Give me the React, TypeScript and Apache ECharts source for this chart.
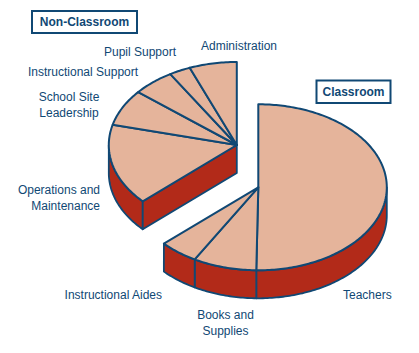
import React, { useEffect, useRef } from "react";
import * as echarts from "echarts";

// Data: share of total spending (%)
const classroomNames = ["Teachers", "Books and\nSupplies", "Instructional Aides"];
const classroomValues = [50.3, 8, 4.9];
const nonClassroomNames = [
  "Operations and\nMaintenance",
  "School Site\nLeadership",
  "Instructional Support",
  "Pupil Support",
  "Administration",
];
const nonClassroomValues = [15.8, 7.1, 5.3, 2.7, 6];
const groupTitles = ["Classroom", "Non-Classroom"];

const INK = "#104874";
const TOP = "#e5b49b";
const WALL = "#b22a19";
const FONT = '12px "Liberation Sans", Arial, sans-serif';

const PIES = [
  { cx: 258.3, cy: 187.3, rx: 128.5, ry: 83, depth: 28 },
  { cx: 236.8, cy: 145, rx: 128, ry: 83, depth: 28 },
];

const allValues = [...classroomValues, ...nonClassroomValues];
const total = allValues.reduce((a, b) => a + b, 0);

function arc(p: any, a0: number, a1: number, dy = 0) {
  const pts: number[][] = [];
  const n = Math.max(2, Math.ceil(Math.abs(a1 - a0)));
  for (let i = 0; i <= n; i++) {
    const t = ((a0 + ((a1 - a0) * i) / n) * Math.PI) / 180;
    pts.push([p.cx + p.rx * Math.sin(t), p.cy - p.ry * Math.cos(t) + dy]);
  }
  return pts;
}

function renderItem(params: any) {
  const i = params.dataIndex;
  const before = allValues.slice(0, i).reduce((a, b) => a + b, 0);
  const a0 = (before / total) * 360;
  const a1 = ((before + allValues[i]) / total) * 360;
  const p = PIES[i < classroomValues.length ? 0 : 1];
  const children: any[] = [];
  const wallStyle = { fill: WALL, stroke: INK, lineWidth: 1.8, lineJoin: "round" };

  // outer wall: only the front half of the ellipse (90..270 degrees) faces the viewer
  const w0 = Math.max(a0, 90);
  const w1 = Math.min(a1, 270);
  if (w1 > w0) {
    const top = arc(p, w0, w1);
    const bottom = arc(p, w1, w0, p.depth);
    children.push({ type: "polygon", z2: 1, shape: { points: [...top, ...bottom] }, style: wallStyle });
  }
  // radial cut wall where the non-classroom wedge starts
  if (i === classroomValues.length) {
    const e = arc(p, a0, a0)[0];
    children.push({
      type: "polygon",
      z2: 1,
      shape: { points: [[p.cx, p.cy], e, [e[0], e[1] + p.depth], [p.cx, p.cy + p.depth]] },
      style: wallStyle,
    });
  }
  children.push({
    type: "polygon",
    z2: 2,
    shape: { points: [[p.cx, p.cy], ...arc(p, a0, a1)] },
    style: { fill: TOP, stroke: INK, lineWidth: 2, lineJoin: "round" },
  });
  return { type: "group", children };
}

const labelPlaces: Record<string, any> = {
  Teachers: { x: 343, y: 295, align: "left" },
  "Books and\nSupplies": { x: 225.5, y: 323, align: "center" },
  "Instructional Aides": { x: 162, y: 295, align: "right" },
  "Operations and\nMaintenance": { x: 100, y: 197.5, align: "right" },
  "School Site\nLeadership": { x: 69, y: 105, align: "center" },
  "Instructional Support": { x: 28, y: 72, align: "left" },
  "Pupil Support": { x: 104, y: 52, align: "left" },
  Administration: { x: 201, y: 46, align: "left" },
};

const boxes = [
  { x: 316.5, y: 80.5, width: 74, height: 22.5 },
  { x: 32, y: 11, width: 105, height: 22 },
];

export default function App() {
  const ref = useRef<HTMLDivElement>(null);
  useEffect(() => {
    document.body.style.margin = "0";
    const chart = echarts.init(ref.current!, undefined, { renderer: "svg" });
    const names = [...classroomNames, ...nonClassroomNames];
    chart.setOption({
      animation: false,
      backgroundColor: "#ffffff",
      tooltip: { show: false },
      series: [
        {
          type: "custom",
          coordinateSystem: "none",
          silent: true,
          renderItem,
          data: names.map((name, i) => ({ name, value: allValues[i] })),
        },
      ],
      graphic: [
        ...names.map((name) => ({
          type: "text",
          x: labelPlaces[name].x,
          y: labelPlaces[name].y,
          style: {
            text: name,
            font: FONT,
            fill: INK,
            align: labelPlaces[name].align,
            verticalAlign: "middle",
            lineHeight: 16,
          },
        })),
        ...groupTitles.flatMap((title, i) => [
          {
            type: "rect",
            shape: boxes[i],
            style: { fill: "#ffffff", stroke: INK, lineWidth: 2 },
          },
          {
            type: "text",
            x: boxes[i].x + boxes[i].width / 2,
            y: boxes[i].y + boxes[i].height / 2,
            z: 10,
            style: {
              text: title,
              font: 'bold 12px "Liberation Sans", Arial, sans-serif',
              fill: INK,
              align: "center",
              verticalAlign: "middle",
            },
          },
        ]),
      ],
    });
    return () => chart.dispose();
  }, []);
  return <div ref={ref} style={{ position: "absolute", left: 0, top: 0, width: 419, height: 353 }} />;
}
